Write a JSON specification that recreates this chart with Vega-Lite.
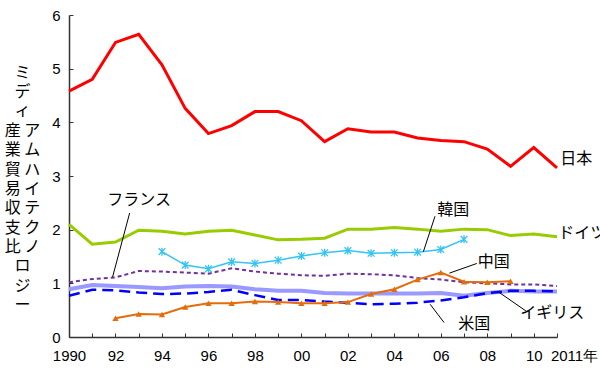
{
  "$schema": "https://vega.github.io/schema/vega-lite/v6.json",
  "width": 488,
  "height": 322,
  "autosize": "none",
  "padding": {"left": 69, "top": 15, "right": 43, "bottom": 34},
  "background": "white",
  "config": {"view": {"stroke": null}},
  "datasets": {
    "series": [
      {"year":1990,"country":"日本","value":4.58},{"year":1991,"country":"日本","value":4.80},{"year":1992,"country":"日本","value":5.49},{"year":1993,"country":"日本","value":5.64},{"year":1994,"country":"日本","value":5.07},{"year":1995,"country":"日本","value":4.26},{"year":1996,"country":"日本","value":3.79},{"year":1997,"country":"日本","value":3.94},{"year":1998,"country":"日本","value":4.20},{"year":1999,"country":"日本","value":4.20},{"year":2000,"country":"日本","value":4.03},{"year":2001,"country":"日本","value":3.64},{"year":2002,"country":"日本","value":3.88},{"year":2003,"country":"日本","value":3.82},{"year":2004,"country":"日本","value":3.82},{"year":2005,"country":"日本","value":3.71},{"year":2006,"country":"日本","value":3.66},{"year":2007,"country":"日本","value":3.64},{"year":2008,"country":"日本","value":3.50},{"year":2009,"country":"日本","value":3.18},{"year":2010,"country":"日本","value":3.53},{"year":2011,"country":"日本","value":3.15},
      {"year":1990,"country":"ドイツ","value":2.10},{"year":1991,"country":"ドイツ","value":1.73},{"year":1992,"country":"ドイツ","value":1.77},{"year":1993,"country":"ドイツ","value":1.99},{"year":1994,"country":"ドイツ","value":1.97},{"year":1995,"country":"ドイツ","value":1.92},{"year":1996,"country":"ドイツ","value":1.97},{"year":1997,"country":"ドイツ","value":1.99},{"year":1998,"country":"ドイツ","value":1.90},{"year":1999,"country":"ドイツ","value":1.81},{"year":2000,"country":"ドイツ","value":1.82},{"year":2001,"country":"ドイツ","value":1.84},{"year":2002,"country":"ドイツ","value":2.01},{"year":2003,"country":"ドイツ","value":2.01},{"year":2004,"country":"ドイツ","value":2.04},{"year":2005,"country":"ドイツ","value":2.01},{"year":2006,"country":"ドイツ","value":1.97},{"year":2007,"country":"ドイツ","value":2.01},{"year":2008,"country":"ドイツ","value":2.00},{"year":2009,"country":"ドイツ","value":1.89},{"year":2010,"country":"ドイツ","value":1.92},{"year":2011,"country":"ドイツ","value":1.87},
      {"year":1994,"country":"韓国","value":1.59},{"year":1995,"country":"韓国","value":1.34},{"year":1996,"country":"韓国","value":1.27},{"year":1997,"country":"韓国","value":1.40},{"year":1998,"country":"韓国","value":1.37},{"year":1999,"country":"韓国","value":1.43},{"year":2000,"country":"韓国","value":1.51},{"year":2001,"country":"韓国","value":1.57},{"year":2002,"country":"韓国","value":1.61},{"year":2003,"country":"韓国","value":1.56},{"year":2004,"country":"韓国","value":1.57},{"year":2005,"country":"韓国","value":1.58},{"year":2006,"country":"韓国","value":1.63},{"year":2007,"country":"韓国","value":1.82},
      {"year":1990,"country":"フランス","value":1.02},{"year":1991,"country":"フランス","value":1.08},{"year":1992,"country":"フランス","value":1.11},{"year":1993,"country":"フランス","value":1.23},{"year":1994,"country":"フランス","value":1.22},{"year":1995,"country":"フランス","value":1.20},{"year":1996,"country":"フランス","value":1.18},{"year":1997,"country":"フランス","value":1.28},{"year":1998,"country":"フランス","value":1.22},{"year":1999,"country":"フランス","value":1.18},{"year":2000,"country":"フランス","value":1.15},{"year":2001,"country":"フランス","value":1.14},{"year":2002,"country":"フランス","value":1.18},{"year":2003,"country":"フランス","value":1.17},{"year":2004,"country":"フランス","value":1.15},{"year":2005,"country":"フランス","value":1.10},{"year":2006,"country":"フランス","value":1.07},{"year":2007,"country":"フランス","value":1.02},{"year":2008,"country":"フランス","value":1.00},{"year":2009,"country":"フランス","value":0.98},{"year":2010,"country":"フランス","value":0.98},{"year":2011,"country":"フランス","value":0.95},
      {"year":1990,"country":"イギリス","value":0.89},{"year":1991,"country":"イギリス","value":0.97},{"year":1992,"country":"イギリス","value":0.95},{"year":1993,"country":"イギリス","value":0.93},{"year":1994,"country":"イギリス","value":0.91},{"year":1995,"country":"イギリス","value":0.94},{"year":1996,"country":"イギリス","value":0.95},{"year":1997,"country":"イギリス","value":0.94},{"year":1998,"country":"イギリス","value":0.89},{"year":1999,"country":"イギリス","value":0.86},{"year":2000,"country":"イギリス","value":0.86},{"year":2001,"country":"イギリス","value":0.82},{"year":2002,"country":"イギリス","value":0.81},{"year":2003,"country":"イギリス","value":0.81},{"year":2004,"country":"イギリス","value":0.81},{"year":2005,"country":"イギリス","value":0.81},{"year":2006,"country":"イギリス","value":0.82},{"year":2007,"country":"イギリス","value":0.77},{"year":2008,"country":"イギリス","value":0.82},{"year":2009,"country":"イギリス","value":0.86},{"year":2010,"country":"イギリス","value":0.85},{"year":2011,"country":"イギリス","value":0.85},
      {"year":1990,"country":"米国","value":0.77},{"year":1991,"country":"米国","value":0.88},{"year":1992,"country":"米国","value":0.87},{"year":1993,"country":"米国","value":0.83},{"year":1994,"country":"米国","value":0.80},{"year":1995,"country":"米国","value":0.81},{"year":1996,"country":"米国","value":0.84},{"year":1997,"country":"米国","value":0.88},{"year":1998,"country":"米国","value":0.78},{"year":1999,"country":"米国","value":0.69},{"year":2000,"country":"米国","value":0.69},{"year":2001,"country":"米国","value":0.66},{"year":2002,"country":"米国","value":0.64},{"year":2003,"country":"米国","value":0.61},{"year":2004,"country":"米国","value":0.62},{"year":2005,"country":"米国","value":0.64},{"year":2006,"country":"米国","value":0.68},{"year":2007,"country":"米国","value":0.74},{"year":2008,"country":"米国","value":0.82},{"year":2009,"country":"米国","value":0.86},{"year":2010,"country":"米国","value":0.86},{"year":2011,"country":"米国","value":0.85},
      {"year":1992,"country":"中国","value":0.35},{"year":1993,"country":"中国","value":0.43},{"year":1994,"country":"中国","value":0.42},{"year":1995,"country":"中国","value":0.56},{"year":1996,"country":"中国","value":0.63},{"year":1997,"country":"中国","value":0.63},{"year":1998,"country":"中国","value":0.66},{"year":1999,"country":"中国","value":0.65},{"year":2000,"country":"中国","value":0.63},{"year":2001,"country":"中国","value":0.63},{"year":2002,"country":"中国","value":0.65},{"year":2003,"country":"中国","value":0.80},{"year":2004,"country":"中国","value":0.89},{"year":2005,"country":"中国","value":1.07},{"year":2006,"country":"中国","value":1.20},{"year":2007,"country":"中国","value":1.03},{"year":2008,"country":"中国","value":1.02},{"year":2009,"country":"中国","value":1.04}
    ],
    "labels": [
      {"label":"日本","year":2011.14,"value":3.31,"anchor":"left"},
      {"label":"ドイツ","year":2011.05,"value":1.93,"anchor":"left"},
      {"label":"韓国","year":2006.53,"value":2.365,"anchor":"center"},
      {"label":"中国","year":2008.28,"value":1.40,"anchor":"center"},
      {"label":"イギリス","year":2010.8,"value":0.45,"anchor":"center"},
      {"label":"米国","year":2007.44,"value":0.24,"anchor":"center"},
      {"label":"フランス","year":1993.02,"value":2.55,"anchor":"center"}
    ],
    "arrows": [
      {"label":"フランス","year":1992.61,"value":2.31,"year2":1991.875,"value2":1.117},
      {"label":"韓国","year":2005.75,"value":2.25,"year2":2005.25,"value2":1.59},
      {"label":"中国","year":2007.55,"value":1.37,"year2":2006.37,"value2":1.19},
      {"label":"イギリス","year":2009.68,"value":0.48,"year2":2008.48,"value2":0.84},
      {"label":"米国","year":2006.14,"value":0.27,"year2":2005.54,"value2":0.61}
    ]
  },
  "encoding": {
    "x": {
      "field": "year", "type": "quantitative",
      "scale": {"domain": [1990, 2011], "nice": false, "zero": false},
      "axis": {
        "title": null, "grid": false,
        "values": [1990,1991,1992,1993,1994,1995,1996,1997,1998,1999,2000,2001,2002,2003,2004,2005,2006,2007,2008,2009,2010,2011],
        "labelExpr": "datum.value == 2011 ? '2011年' : (datum.value == 1990 ? '1990' : (datum.value % 2 == 0 ? substring(toString(datum.value), 2) : ''))",
        "labelOverlap": false,
        "labelFont": "Liberation Sans", "labelFontSize": 15, "labelColor": "black",
        "labelPadding": 15,
        "labelOffset": {"condition": {"test": "datum.value == 2011", "value": 17}, "value": 0},
        "labelFlush": false,
        "tickSize": -4, "tickColor": "#333", "domainColor": "#333", "domainWidth": 1.5
      }
    },
    "y": {
      "field": "value", "type": "quantitative",
      "scale": {"domain": [0, 6], "nice": false},
      "axis": {
        "grid": false,
        "values": [0,1,2,3,4,5,6],
        "labelFont": "Liberation Sans", "labelFontSize": 15, "labelColor": "black",
        "labelPadding": 13,
        "tickSize": -4, "tickColor": "#333", "domainColor": "#333", "domainWidth": 1.5,
        "title": ["　 ミ","　 デ","　 ィ","産 ア","業 ム","貿 ハ","易 イ","収 テ","支 ク","比 ノ","　 ロ","　 ジ","　 ー"],
        "titleAngle": 0,
        "titleFont": "Noto Sans CJK JP", "titleFontSize": 16, "titleFontWeight": "normal",
        "titleLineHeight": 19.4, "titleColor": "black",
        "titleAlign": "center", "titleBaseline": "middle",
        "titleX": -47, "titleY": 57
      }
    }
  },
  "layer": [
    {"data": {"name": "series"}, "transform": [{"filter": "datum.country == '日本'"}],
     "mark": {"type": "line", "color": "#FF0000", "strokeWidth": 3}},
    {"data": {"name": "series"}, "transform": [{"filter": "datum.country == 'ドイツ'"}],
     "mark": {"type": "line", "color": "#99CC00", "strokeWidth": 3}},
    {"data": {"name": "series"}, "transform": [{"filter": "datum.country == 'イギリス'"}],
     "mark": {"type": "line", "color": "#9999FF", "strokeWidth": 4}},
    {"data": {"name": "series"}, "transform": [{"filter": "datum.country == '米国'"}],
     "mark": {"type": "line", "color": "#0000FF", "strokeWidth": 2.5, "strokeDash": [11, 6]}},
    {"data": {"name": "series"}, "transform": [{"filter": "datum.country == 'フランス'"}],
     "mark": {"type": "line", "color": "#7030A0", "strokeWidth": 2, "strokeDash": [4, 3]}},
    {"mark": {"type": "rule", "color": "black", "strokeWidth": 1.5}, "encoding": {"y": {"datum": 1}, "x": null}},
    {"data": {"name": "series"}, "transform": [{"filter": "datum.country == '韓国'"}],
     "mark": {"type": "line", "color": "#33C4F4", "strokeWidth": 1.5}},
    {"data": {"name": "series"}, "transform": [{"filter": "datum.country == '韓国'"}],
     "mark": {"type": "point", "color": "#33C4F4", "filled": false, "strokeWidth": 1.3, "size": 45, "opacity": 1,
              "shape": "M-1,-1L1,1M-1,1L1,-1M0,-1.2L0,1.2"}},
    {"data": {"name": "series"}, "transform": [{"filter": "datum.country == '中国'"}],
     "mark": {"type": "line", "color": "#E46C0A", "strokeWidth": 2}},
    {"data": {"name": "series"}, "transform": [{"filter": "datum.country == '中国'"}],
     "mark": {"type": "point", "color": "#E46C0A", "filled": true, "shape": "triangle-up", "size": 40, "opacity": 1}},
    {"data": {"name": "arrows"},
     "mark": {"type": "rule", "color": "black", "strokeWidth": 1},
     "encoding": {"x2": {"field": "year2"}, "y2": {"field": "value2"}}},
    {"data": {"name": "labels"}, "transform": [{"filter": "datum.anchor == 'left'"}],
     "mark": {"type": "text", "align": "left", "baseline": "middle", "font": "Noto Sans CJK JP", "fontSize": 16, "color": "black", "clip": false},
     "encoding": {"text": {"field": "label"}}},
    {"data": {"name": "labels"}, "transform": [{"filter": "datum.anchor == 'center'"}],
     "mark": {"type": "text", "align": "center", "baseline": "middle", "font": "Noto Sans CJK JP", "fontSize": 16, "color": "black", "clip": false},
     "encoding": {"text": {"field": "label"}}}
  ]
}
